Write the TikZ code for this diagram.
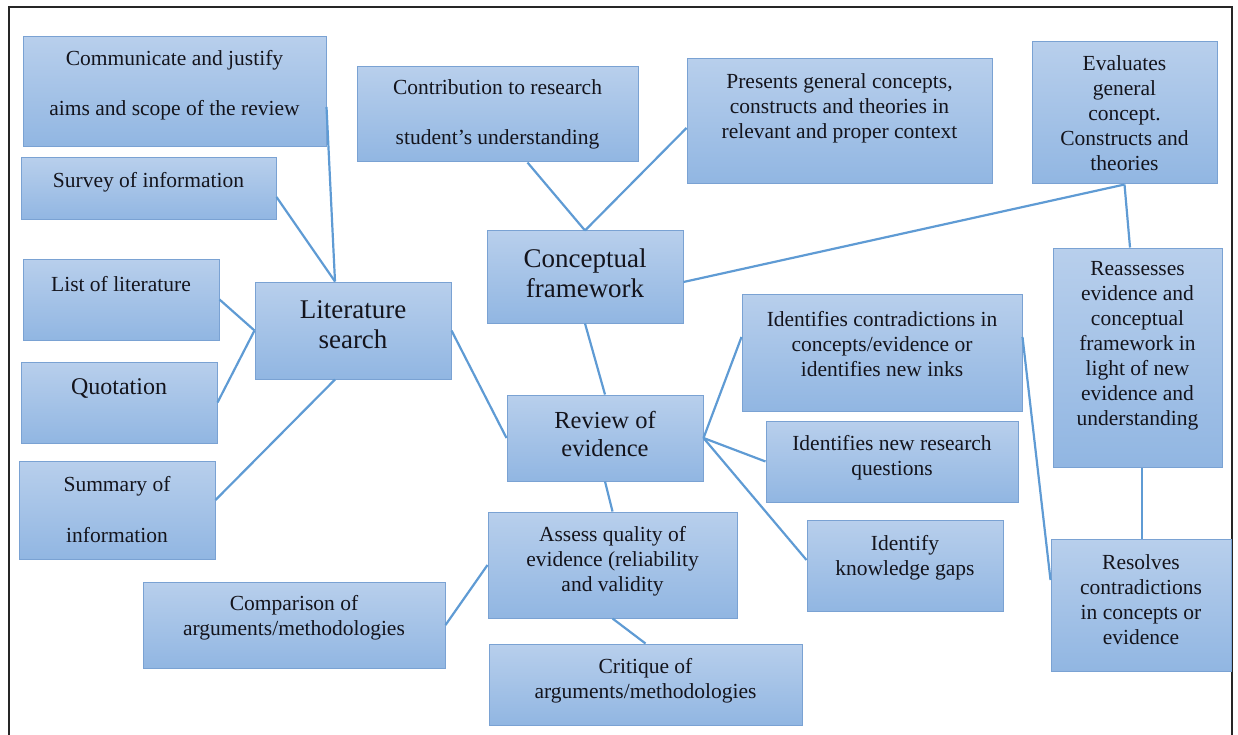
\documentclass[tikz,border=0pt]{standalone}
\usepackage{fontspec}
\setmainfont{Liberation Serif}
\definecolor{mapEdge}{RGB}{122,162,211}
\definecolor{mapTop}{RGB}{184,207,236}
\definecolor{mapBottom}{RGB}{145,182,226}
\definecolor{mapLine}{RGB}{95,155,212}
\definecolor{mapText}{RGB}{20,20,28}
\usetikzlibrary{positioning}
\newcommand{\pad}[1]{\\[#1]\mbox{}}

\begin{document}
\begin{tikzpicture}[x=1pt, y=-1pt,
  card/.style={rectangle, draw=mapEdge, line width=1pt,
               top color=mapTop, bottom color=mapBottom,
               inner sep=0pt, align=center, text=mapText,
               font=\fontsize{21.5}{25}\selectfont},
  big/.style={card, font=\fontsize{27}{30}\selectfont},
  link/.style={draw=mapLine, line width=2.2pt},
]
  \useasboundingbox (0,0) rectangle (1238,735);
  \draw[black!85, line width=2.2pt] (9,735) -- (9,7) -- (1232,7) -- (1232,735);

  % left column
  \node[card, minimum width=303pt, minimum height=110pt] (aims) at (174.5,92)
    {Communicate and justify\\[25pt]aims and scope of the review\pad{-6pt}};
  \node[card, minimum width=255pt, minimum height=62pt] (survey) at (148.5,189)
    {Survey of information\pad{-6pt}};
  \node[card, minimum width=196pt, minimum height=81pt] (litlist) at (121,299.5)
    {List of literature\pad{7pt}};
  \node[card, minimum width=196pt, minimum height=81pt,
        font=\fontsize{24}{28}\selectfont] (quote) at (119,402.5)
    {Quotation\pad{4pt}};
  \node[card, minimum width=196pt, minimum height=98pt] (summary) at (117,510)
    {Summary of\\[26pt]information};
  \node[big, minimum width=196pt, minimum height=97pt] (search) at (353,330.5)
    {Literature\\search\pad{-18pt}};

  % top row
  \node[card, minimum width=281pt, minimum height=95pt] (contrib) at (497.5,114.5)
    {Contribution to research\\[25pt]student’s understanding};
  \node[card, minimum width=305pt, minimum height=125pt] (presents) at (839.5,121.5)
    {Presents general concepts,\\constructs and theories in\\relevant and proper context\pad{6pt}};
  \node[card, minimum width=185pt, minimum height=142pt] (evaluate) at (1124.5,113)
    {Evaluates\\general\\concept.\\Constructs and\\theories};
  \node[big, minimum width=196pt, minimum height=92pt] (concept) at (585,277)
    {Conceptual\\framework\pad{-22pt}};

  % middle
  \node[card, minimum width=280pt, minimum height=117pt] (contra) at (882,352.5)
    {Identifies contradictions in\\concepts/evidence or\\identifies new inks\pad{-7pt}};
  \node[card, minimum width=196pt, minimum height=86pt,
        font=\fontsize{24.5}{28}\selectfont] (review) at (605,438)
    {Review of\\evidence\pad{-20pt}};
  \node[card, minimum width=252pt, minimum height=81pt] (newq) at (892,461.5)
    {Identifies new research\\questions\pad{-12pt}};
  \node[card, minimum width=196pt, minimum height=91pt] (gaps) at (905,565.5)
    {Identify\\knowledge gaps\pad{-4pt}};

  % right column
  \node[card, minimum width=169pt, minimum height=219pt] (reassess) at (1137.5,357.5)
    {Reassesses\\evidence and\\conceptual\\framework in\\light of new\\evidence and\\understanding\pad{4pt}};
  \node[card, minimum width=180pt, minimum height=132pt] (resolve) at (1141,605)
    {Resolves\\contradictions\\in concepts or\\evidence\pad{-15pt}};

  % bottom
  \node[card, minimum width=249pt, minimum height=106pt] (assess) at (612.5,565)
    {Assess quality of\\evidence (reliability\\and validity\pad{-12pt}};
  \node[card, minimum width=302pt, minimum height=86pt] (compare) at (294,625)
    {Comparison of\\arguments/methodologies\pad{-6pt}};
  \node[card, minimum width=313pt, minimum height=81pt] (critique) at (645.5,684.5)
    {Critique of\\arguments/methodologies\pad{-12pt}};

  % connectors
  \draw[link] ([yshift=-15pt]aims.east) -- ([xshift=-18pt]search.north);
  \draw[link] ([yshift=-8pt]survey.east) -- ([xshift=-18pt]search.north);
  \draw[link] (litlist.east) -- (search.west);
  \draw[link] (quote.east) -- (search.west);
  \draw[link] ([yshift=10pt]summary.east) -- ([xshift=-18pt]search.south);
  \draw[link] (search.east) -- (review.west);
  \draw[link] ([xshift=30pt]contrib.south) -- (concept.north);
  \draw[link] ([yshift=-6.5pt]presents.west) -- (concept.north);
  \draw[link] ([yshift=-5pt]concept.east) -- (evaluate.south);
  \draw[link] (evaluate.south) -- ([xshift=-7.5pt]reassess.north);
  \draw[link] (concept.south) -- (review.north);
  \draw[link] (review.east) -- ([yshift=15.5pt]contra.west);
  \draw[link] (review.east) -- (newq.west);
  \draw[link] (review.east) -- ([yshift=5.5pt]gaps.west);
  \draw[link] (review.south) -- (assess.north);
  \draw[link] ([yshift=15.5pt]contra.east) -- ([yshift=25pt]resolve.west);
  \draw[link] ([xshift=4.5pt]reassess.south) -- ([xshift=1pt]resolve.north);
  \draw[link] (compare.east) -- (assess.west);
  \draw[link] (assess.south) -- (critique.north);
\end{tikzpicture}
\end{document}
